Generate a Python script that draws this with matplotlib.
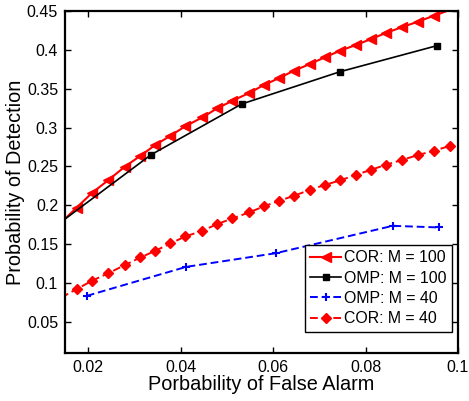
import matplotlib
matplotlib.use("Agg")
import matplotlib.pyplot as plt
from matplotlib.lines import Line2D

# Data
pfa_cor = [0.0142, 0.0175, 0.0208, 0.0244, 0.0279, 0.0313, 0.0345, 0.0378, 0.0410,
           0.0447, 0.0479, 0.0512, 0.0548, 0.0580, 0.0613, 0.0645, 0.0680, 0.0712,
           0.0745, 0.0779, 0.0812, 0.0844, 0.0878, 0.0913, 0.0948, 0.0983]
pd_cor100 = [0.178, 0.197, 0.2157, 0.2326, 0.2495, 0.2637, 0.2775, 0.2895, 0.3016,
             0.3131, 0.3247, 0.3345, 0.3444, 0.3547, 0.3637, 0.3731, 0.3818, 0.3904,
             0.3989, 0.4062, 0.4139, 0.4217, 0.4290, 0.4362, 0.4439, 0.4515]
pd_cor40 = [0.0815, 0.0921, 0.1028, 0.1127, 0.1230, 0.1329, 0.1414, 0.1509, 0.1599,
            0.1672, 0.1758, 0.1831, 0.1908, 0.1986, 0.2058, 0.2122, 0.2200, 0.2262,
            0.2320, 0.2392, 0.2457, 0.2521, 0.2582, 0.2646, 0.2701, 0.2766]
pfa_omp100 = [0.0138, 0.0336, 0.0532, 0.0745, 0.0954]
pd_omp100 = [0.177, 0.265, 0.3303, 0.3719, 0.4053]
pfa_omp40 = [0.0197, 0.0412, 0.0606, 0.0859, 0.0960]
pd_omp40 = [0.0835, 0.1208, 0.1384, 0.1736, 0.1715]

labels = ['COR: M = 100', 'OMP: M = 100', 'OMP: M = 40', 'COR: M = 40']

xticks = [0.02, 0.04, 0.06, 0.08, 0.1]
xticklabels = ["0.02", "0.04", "0.06", "0.08", "0.1"]
yticks = [0.05, 0.1, 0.15, 0.2, 0.25, 0.3, 0.35, 0.4, 0.45]
yticklabels = ["0.05", "0.1", "0.15", "0.2", "0.25", "0.3", "0.35", "0.4", "0.45"]

plt.rcParams['font.family'] = ['Liberation Sans', 'DejaVu Sans']

fig = plt.figure(figsize=(4.69, 4.01), dpi=100)
ax = fig.add_axes([0.1386, 0.1197, 0.8379, 0.8529])

dash = (0, (4, 2))
styles = [
    dict(color='red', lw=1.5, ls='-', marker='<', ms=6.5),
    dict(color='black', lw=1.2, ls='-', marker='s', ms=4.5),
    dict(color='blue', lw=1.4, ls=dash, marker='+', ms=6, mew=1.5),
    dict(color='red', lw=1.4, ls=dash, marker='D', ms=5),
]

ax.plot(pfa_cor, pd_cor100, markevery=slice(1, len(pfa_cor) - 1), **styles[0])
ax.plot(pfa_omp100, pd_omp100, markevery=slice(1, None), **styles[1])
ax.plot(pfa_omp40, pd_omp40, **styles[2])
ax.plot(pfa_cor, pd_cor40, markevery=slice(1, None), **styles[3])

ax.set_xlim(0.015, 0.1)
ax.set_ylim(0.01, 0.45)
ax.set_xticks(xticks)
ax.set_xticklabels(xticklabels)
ax.set_yticks(yticks)
ax.set_yticklabels(yticklabels)
ax.tick_params(direction='in', top=True, right=True, length=4, width=1,
               labelsize=11.5, pad=5)
for s in ax.spines.values():
    s.set_linewidth(1.6)

ax.set_xlabel('Porbability of False Alarm', fontsize=14.3, labelpad=0)
ax.set_ylabel('Probability of Detection', fontsize=14.3, labelpad=1)

handles = [Line2D([], [], **st) for st in styles]
leg = ax.legend(handles, labels, loc='lower right', bbox_to_anchor=(0.984, 0.0623),
                fontsize=11.4, frameon=True, fancybox=False, framealpha=1,
                edgecolor='black', handlelength=1.95, handletextpad=0.15,
                labelspacing=0.33, borderpad=0.35, borderaxespad=0.0)
leg.get_frame().set_linewidth(1.0)

fig.savefig('out.png', dpi=100)
